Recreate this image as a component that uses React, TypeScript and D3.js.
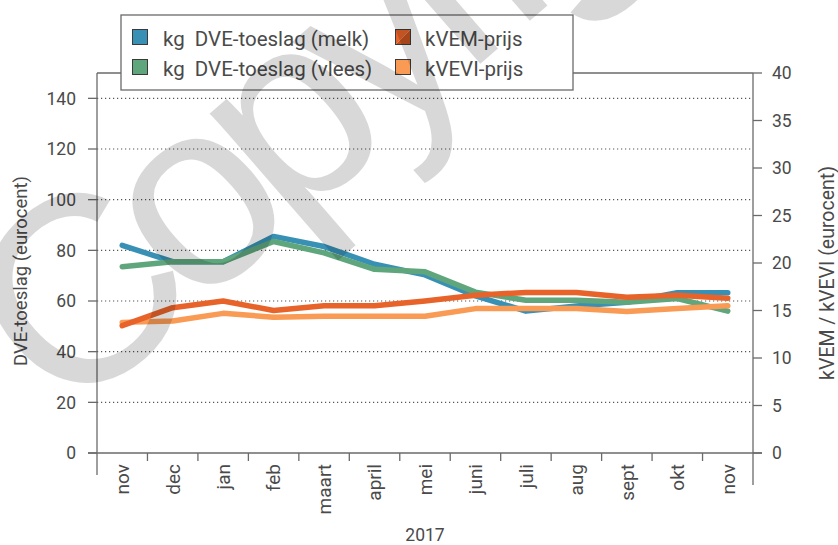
import React from "react";
import * as d3 from "d3";

const months = ["nov", "dec", "jan", "feb", "maart", "april", "mei", "juni", "juli", "aug", "sept", "okt", "nov"];
const dveMelk = [82, 75.5, 75.5, 85.5, 81.5, 74.5, 70.3, 62, 56, 58, 59.5, 63.3, 63.3];
const dveVlees = [73.5, 75.5, 75.5, 83.5, 79, 72.5, 71.5, 63.5, 60.3, 60.3, 59.5, 61, 56];
const kvemPrijs = [13.4, 15.3, 16.0, 15.0, 15.5, 15.5, 16.0, 16.6, 16.9, 16.9, 16.4, 16.6, 16.3];
const kveviPrijs = [13.75, 13.9, 14.7, 14.3, 14.4, 14.4, 14.4, 15.2, 15.2, 15.2, 14.9, 15.2, 15.5];
const leftTicks = [0, 20, 40, 60, 80, 100, 120, 140];
const rightTicks = [0, 5, 10, 15, 20, 25, 30, 35, 40];

const W = 838, H = 545;
const L = 97, R = 753, T = 73, B = 453;
const FONT = "Roboto, 'DejaVu Sans', sans-serif";
const TXT = "#4a4a4a";
const AX = "#6a6a6a";

const C_BLUE = "#3891b5";
const C_GREEN = "#5fa67d";
const C_ORANGE = "#e8632a";
const C_LORANGE = "#f99a55";

export default function App() {
  const x = d3.scaleBand<number>().domain(months.map((_, i) => i)).range([L, R]);
  const xc = (i: number) => (x(i) as number) + x.bandwidth() / 2;
  const yL = d3.scaleLinear().domain([0, 150]).range([B, T]);
  const yR = d3.scaleLinear().domain([0, 40]).range([B, T]);

  const lineL = d3.line<number>().x((_, i) => xc(i)).y((d) => yL(d));
  const lineR = d3.line<number>().x((_, i) => xc(i)).y((d) => yR(d));

  const series = [
    { d: lineL(dveMelk), c: C_BLUE },
    { d: lineL(dveVlees), c: C_GREEN },
    { d: lineR(kveviPrijs), c: C_LORANGE },
    { d: lineR(kvemPrijs), c: C_ORANGE },
  ];

  const bounds = months.map((_, i) => x(i) as number).slice(1);

  return (
    <svg width={W} height={H} style={{ position: "absolute", left: 0, top: 0, display: "block" }} fontFamily={FONT}>
      <rect width={W} height={H} fill="#fff" />
      {/* gridlines */}
      {leftTicks.filter((t) => t > 0).map((t) => (
        <line key={"g" + t} x1={L} x2={R} y1={yL(t)} y2={yL(t)} stroke="#555" strokeWidth={1.2} strokeDasharray="1.2 2.8" />
      ))}
      {/* frame */}
      <line x1={L} x2={R} y1={T} y2={T} stroke={AX} strokeWidth={1.3} />
      <line x1={L} x2={L} y1={T} y2={475} stroke={AX} strokeWidth={1.3} />
      <line x1={R} x2={R} y1={T} y2={485} stroke={AX} strokeWidth={1.3} />
      <line x1={L - 9} x2={R + 9} y1={B} y2={B} stroke={AX} strokeWidth={1.3} />
      {/* left ticks */}
      {leftTicks.map((t) => (
        <g key={"l" + t}>
          <line x1={L - 9} x2={L} y1={yL(t)} y2={yL(t)} stroke={AX} strokeWidth={1.3} />
          <text x={76} y={yL(t)} dy="0.36em" textAnchor="end" fontSize={17.5} fill={TXT}>{t}</text>
        </g>
      ))}
      {/* right ticks */}
      {rightTicks.map((t) => (
        <g key={"r" + t}>
          <line x1={R} x2={R + 9} y1={yR(t)} y2={yR(t)} stroke={AX} strokeWidth={1.3} />
          <text x={772} y={yR(t)} dy="0.36em" textAnchor="start" fontSize={17.5} fill={TXT}>{t}</text>
        </g>
      ))}
      {/* x ticks */}
      {bounds.map((b, i) => (
        <line key={"x" + i} x1={b} x2={b} y1={B} y2={B + 8} stroke={AX} strokeWidth={1.3} />
      ))}
      {months.map((m, i) => (
        <text key={"m" + i} transform={`translate(${xc(i)},464) rotate(-90)`} dy="0.36em" textAnchor="end" fontSize={19} fill={TXT}>{m}</text>
      ))}
      <text x={(L + R) / 2} y={541} textAnchor="middle" fontSize={17.5} fill={TXT}>2017</text>
      {/* axis titles */}
      <text transform={`translate(27,271) rotate(-90)`} textAnchor="middle" fontSize={18.5} fill={TXT}>DVE-toeslag (eurocent)</text>
      <text transform={`translate(834,273) rotate(-90)`} textAnchor="middle" fontSize={19.5} fill={TXT}>kVEM / kVEVI (eurocent)</text>
      {/* lines */}
      {series.map((s, i) => (
        <path key={"s" + i} d={s.d as string} fill="none" stroke={s.c} strokeWidth={5.5} strokeLinecap="round" strokeLinejoin="round" />
      ))}
      {/* legend */}
      <rect x={121} y={15} width={452} height={75} fill="#fff" stroke={AX} strokeWidth={1.3} />
      <rect x={132.5} y={29.5} width={15} height={15} fill={C_BLUE} stroke="#3a3a3a" strokeWidth={1} />
      <rect x={132.5} y={59.5} width={15} height={15} fill={C_GREEN} stroke="#3a3a3a" strokeWidth={1} />
      <g>
        <path d="M395.5,29.5 L410.5,29.5 L395.5,44.5 Z" fill={C_ORANGE} />
        <path d="M410.5,29.5 L410.5,44.5 L395.5,44.5 Z" fill="#c5521f" />
        <rect x={395.5} y={29.5} width={15} height={15} fill="none" stroke="#3a3a3a" strokeWidth={1} />
      </g>
      <rect x={395.5} y={59.5} width={15} height={15} fill={C_LORANGE} stroke="#3a3a3a" strokeWidth={1} />
      <text x={163} y={46} fontSize={20.5} fill={TXT} style={{ whiteSpace: "pre" }}>{"kg  DVE-toeslag (melk)"}</text>
      <text x={163} y={76} fontSize={20.5} fill={TXT} style={{ whiteSpace: "pre" }}>{"kg  DVE-toeslag (vlees)"}</text>
      <text x={425} y={46} fontSize={20.5} fill={TXT}>kVEM-prijs</text>
      <text x={425} y={76} fontSize={20.5} fill={TXT}>kVEVI-prijs</text>
      {/* watermark */}
      <g opacity={0.15}>
        <text transform="translate(66,424) rotate(-41)" fontFamily="'Liberation Sans', Arial, sans-serif" fontSize={265} letterSpacing={-22} fill="#000">Copyright</text>
      </g>
    </svg>
  );
}
